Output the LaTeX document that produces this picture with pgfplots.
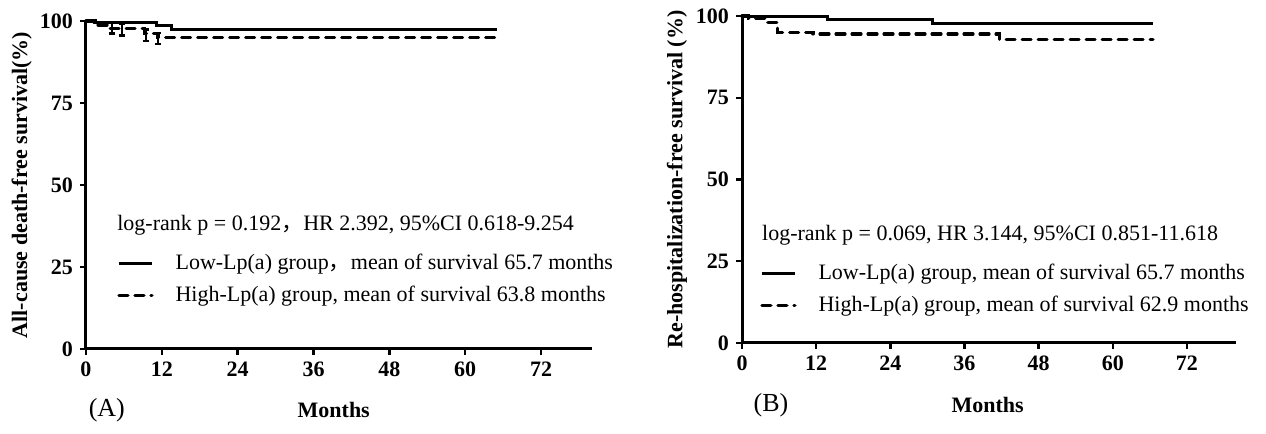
\documentclass[border=0pt]{standalone}
\usepackage{pgfplots}
\pgfplotsset{compat=1.18}
\usepackage{fontspec}
\setmainfont{Liberation Serif}
\newfontfamily\cjk{Noto Sans CJK SC}

% censoring tick: vertical bar with small caps
\pgfdeclareplotmark{cens}{%
  \pgfpathmoveto{\pgfpoint{0pt}{\pgfplotmarksize}}%
  \pgfpathlineto{\pgfpoint{0pt}{-\pgfplotmarksize}}%
  \pgfpathmoveto{\pgfpoint{-0.6\pgfplotmarksize}{\pgfplotmarksize}}%
  \pgfpathlineto{\pgfpoint{0.6\pgfplotmarksize}{\pgfplotmarksize}}%
  \pgfpathmoveto{\pgfpoint{-0.6\pgfplotmarksize}{-\pgfplotmarksize}}%
  \pgfpathlineto{\pgfpoint{0.6\pgfplotmarksize}{-\pgfplotmarksize}}%
  \pgfusepathqstroke}

\pgfplotsset{
  km/.style={
    axis x line*=bottom, axis y line*=left,
    xmin=0, xmax=80, ymin=0, ymax=100,
    xtick={0,12,...,72}, ytick={0,25,...,100},
    tick align=outside, major tick length=3pt,
    every tick/.style={line width=1.2pt, black},
    axis line style={line width=1.5pt},
    ticklabel style={font=\fontsize{11}{13}\selectfont\bfseries},
    /pgf/number format/assume math mode=true,
    clip=false, anchor=origin,
    xlabel={Months},
    xlabel style={font=\fontsize{11}{13}\selectfont\bfseries, anchor=center},
    ylabel style={font=\fontsize{11}{13}\selectfont\bfseries, anchor=center},
    legend style={draw=none, fill=none, inner sep=0pt, anchor=west,
      font=\fontsize{11}{13}\selectfont, row sep=7pt, column sep=11pt,
      nodes={inner sep=0pt}},
    legend cell align=left,
    legend image code/.code={\draw[#1] (0pt,0pt) -- (16.5pt,0pt);},
  },
  lowline/.style={black, line width=1.5pt, const plot},
  highline/.style={black, line width=1.6pt, const plot, line cap=round,
    dash pattern=on 4.5pt off 3.5pt},
}

\begin{document}
\begin{tikzpicture}
\useasboundingbox (0,0) rectangle (633pt,217pt);

% (A) all-cause death
\begin{axis}[km, at={(43pt,42.5pt)}, x=3.16pt, y=1.64pt,
  ylabel={All-cause death-free survival(\%)},
  ylabel style={at={(axis description cs:-0.127,0.5)}},
  xlabel style={at={(axis description cs:0.49,-0.186)}},
  legend style={at={(axis cs:4.9,21.2)}}]
\addplot[lowline] coordinates {(0,100) (1.5,99.5) (11.2,98.5) (13.6,97.5) (65,97.5)};
\addlegendentry{Low-Lp(a) group{\cjk ，}mean of survival 65.7 months}
\addplot[highline] coordinates {(0,100) (1.2,98.8) (3.8,97.6) (9.3,96.2) (11.4,95.0) (65,95.0)};
\addlegendentry{High-Lp(a) group, mean of survival 63.8 months}
\addplot[forget plot, only marks, mark=cens, mark size=2.8pt, line width=1.1pt, black]
  coordinates {(4.1,97.9) (5.7,97.3) (9.5,95.7) (11.4,94.7)};
\node[anchor=west, inner sep=0pt, font=\fontsize{11}{13}\selectfont]
  at (axis cs:4.9,37.8) {log-rank p = 0.192{\cjk ，}HR 2.392, 95\%CI 0.618-9.254};
\node[font=\fontsize{13}{15}\selectfont] at (axis cs:3.3,-18.6) {(A)};
\end{axis}

% (B) re-hospitalization
\begin{axis}[km, at={(371pt,45.5pt)}, x=3.09pt, y=1.635pt,
  ylabel={Re-hospitalization-free survival (\%)},
  ylabel style={at={(axis description cs:-0.1315,0.5)}},
  xlabel style={at={(axis description cs:0.497,-0.19)}},
  legend style={at={(axis cs:2.9,16.4)}}]
\addplot[lowline] coordinates {(0,99.7) (13.9,98.8) (30.9,97.6) (66.5,97.6)};
\addlegendentry{Low-Lp(a) group, mean of survival 65.7 months}
\addplot[highline] coordinates {(0,100) (1,99.3) (4,98.1) (5.8,95.0) (11.5,94.5) (41.7,92.7) (66.5,92.7)};
\addlegendentry{High-Lp(a) group, mean of survival 62.9 months}
\node[anchor=west, inner sep=0pt, font=\fontsize{11}{13}\selectfont]
  at (axis cs:3.2,33) {log-rank p = 0.069, HR 3.144, 95\%CI 0.851-11.618};
\node[font=\fontsize{13}{15}\selectfont] at (axis cs:4.7,-19) {(B)};
\end{axis}
\end{tikzpicture}
\end{document}
